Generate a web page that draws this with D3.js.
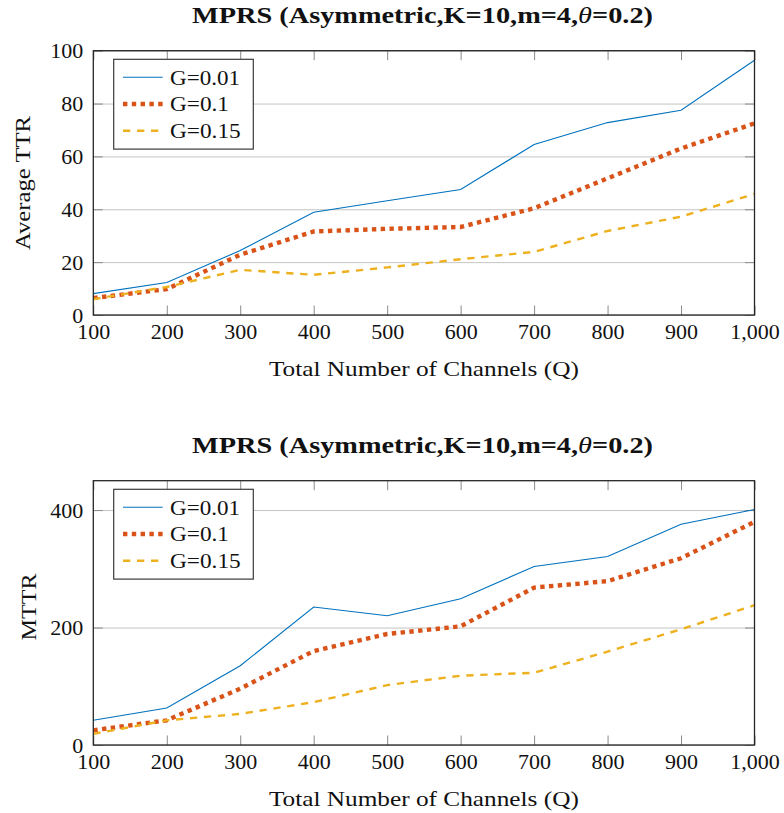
<!DOCTYPE html>
<html>
<head>
<meta charset="utf-8">
<script src="https://cdn.jsdelivr.net/npm/d3@7"></script>
<style>
  body { margin: 0; background: #ffffff; }
  svg { display: block; }
  text { font-family: "Liberation Serif", "DejaVu Serif", serif; fill: #111; }
</style>
</head>
<body>
<svg id="chart"></svg>
<script>
const channels = [100, 200, 300, 400, 500, 600, 700, 800, 900, 1000];
const seriesNames = ["G=0.01", "G=0.1", "G=0.15"];

// Average TTR (top chart)
const ttrG001 = [8.1, 12.3, 24.4, 38.9, 43.2, 47.5, 64.5, 72.8, 77.5, 96.4];
const ttrG01 = [6.4, 9.8, 22.8, 31.6, 32.6, 33.3, 40.4, 51.7, 63.0, 72.5];
const ttrG015 = [6.0, 10.6, 17.1, 15.2, 18.0, 21.1, 23.9, 31.8, 37.2, 45.8];
const ttrTicks = [0, 20, 40, 60, 80, 100];

// MTTR (bottom chart)
const mttrG001 = [42, 63, 135, 235, 220, 249, 304, 321, 376, 401];
const mttrG01 = [25, 42, 96, 160, 189, 202, 268, 279, 318, 380];
const mttrG015 = [19, 42, 53, 73, 102, 118, 123, 159, 197, 238];
const mttrTicks = [0, 200, 400];

const WIDTH = 784;
const HEIGHT = 813;
const LEFT = 93.3;
const RIGHT = 754.5;
const TICK = 9.5;
const FONT = 22;

const lineStyles = [
    { color: "#0072BD", width: 1.1, dash: null },
    { color: "#D95319", width: 4.4, dash: "4.4,4.4" },
    { color: "#EDB120", width: 2.4, dash: "7.3,6.7" },
];

const SVG = d3.select("#chart").attr("width", WIDTH).attr("height", HEIGHT);

function drawChart(opts) {
    const g = SVG.append("g");
    const xScale = d3.scaleLinear().domain([100, 1000]).range([LEFT, RIGHT]);
    const yScale = d3.scaleLinear().domain([0, opts.yMax]).range([opts.bottom, opts.top]);

    const clipId = "clip" + opts.id;
    g.append("clipPath").attr("id", clipId)
        .append("rect")
        .attr("x", LEFT).attr("y", opts.top)
        .attr("width", RIGHT - LEFT).attr("height", opts.bottom - opts.top);

    // y grid
    g.append("g")
        .attr("transform", "translate(" + LEFT + ",0)")
        .call(d3.axisLeft(yScale).tickValues(opts.yTicks).tickSize(-(RIGHT - LEFT)).tickFormat(""))
        .call((s) => s.select(".domain").remove())
        .selectAll(".tick line")
        .attr("stroke", "#c4c4c4")
        .attr("stroke-width", 1);

    // tick marks inside, on all four sides
    const tickColor = "#8a8a8a";
    g.append("g")
        .attr("transform", "translate(0," + opts.bottom + ")")
        .call(d3.axisTop(xScale).tickValues(channels).tickSize(TICK).tickFormat(""))
        .call((s) => s.select(".domain").remove())
        .selectAll(".tick line").attr("stroke", tickColor);
    g.append("g")
        .attr("transform", "translate(0," + opts.top + ")")
        .call(d3.axisBottom(xScale).tickValues(channels).tickSize(TICK).tickFormat(""))
        .call((s) => s.select(".domain").remove())
        .selectAll(".tick line").attr("stroke", tickColor);
    g.append("g")
        .attr("transform", "translate(" + LEFT + ",0)")
        .call(d3.axisRight(yScale).tickValues(opts.yTicks).tickSize(TICK).tickFormat(""))
        .call((s) => s.select(".domain").remove())
        .selectAll(".tick line").attr("stroke", tickColor);
    g.append("g")
        .attr("transform", "translate(" + RIGHT + ",0)")
        .call(d3.axisLeft(yScale).tickValues(opts.yTicks).tickSize(TICK).tickFormat(""))
        .call((s) => s.select(".domain").remove())
        .selectAll(".tick line").attr("stroke", tickColor);

    // tick labels
    const xLabels = g.append("g")
        .attr("transform", "translate(0," + opts.bottom + ")")
        .call(d3.axisBottom(xScale).tickValues(channels).tickSize(0).tickPadding(0).tickFormat(d3.format(",")));
    xLabels.select(".domain").remove();
    xLabels.selectAll(".tick text")
        .attr("y", 24).attr("dy", null)
        .attr("font-size", FONT + "px")
        .attr("font-family", "Liberation Serif")
        .attr("fill", "#111");

    const yLabels = g.append("g")
        .attr("transform", "translate(" + LEFT + ",0)")
        .call(d3.axisLeft(yScale).tickValues(opts.yTicks).tickSize(0).tickPadding(10));
    yLabels.select(".domain").remove();
    yLabels.selectAll(".tick text")
        .attr("dy", "0.33em")
        .attr("font-size", FONT + "px")
        .attr("font-family", "Liberation Serif")
        .attr("fill", "#111");

    // series
    const line = d3.line().x((d, i) => xScale(channels[i])).y((d) => yScale(d));
    const plot = g.append("g").attr("clip-path", "url(#" + clipId + ")");
    opts.series.forEach((values, i) => {
        plot.append("path")
            .datum(values)
            .attr("d", line)
            .attr("fill", "none")
            .attr("stroke", lineStyles[i].color)
            .attr("stroke-width", lineStyles[i].width)
            .attr("stroke-dasharray", lineStyles[i].dash);
    });

    // frame
    g.append("rect")
        .attr("x", LEFT).attr("y", opts.top)
        .attr("width", RIGHT - LEFT).attr("height", opts.bottom - opts.top)
        .attr("fill", "none")
        .attr("stroke", "#262626")
        .attr("stroke-width", 1.3);

    // legend
    const lg = g.append("g").attr("transform", "translate(113.7," + (opts.top + 8.6) + ")");
    lg.append("rect")
        .attr("width", 139.6).attr("height", 89.8)
        .attr("fill", "#ffffff")
        .attr("stroke", "#3a3a3a")
        .attr("stroke-width", 1.2);
    const legendWidths = [70, 59, 70.7];
    seriesNames.forEach((name, i) => {
        const y = 18 + i * 26.7;
        lg.append("line")
            .attr("x1", 9.3).attr("x2", 49)
            .attr("y1", y).attr("y2", y)
            .attr("stroke", lineStyles[i].color)
            .attr("stroke-width", lineStyles[i].width)
            .attr("stroke-dasharray", lineStyles[i].dash);
        lg.append("text")
            .attr("x", 56.3).attr("y", y + 7.5)
            .attr("font-size", FONT + "px")
            .attr("textLength", legendWidths[i])
            .attr("lengthAdjust", "spacingAndGlyphs")
            .text(name);
    });

    // title
    const title = g.append("text")
        .attr("x", 192).attr("y", opts.titleY)
        .attr("font-size", "24px")
        .attr("font-weight", "bold")
        .attr("textLength", 461)
        .attr("lengthAdjust", "spacingAndGlyphs");
    title.append("tspan").text("MPRS (Asymmetric,K=10,m=4,");
    title.append("tspan").attr("font-style", "italic").attr("font-weight", "normal").text("θ");
    title.append("tspan").text("=0.2)");

    // axis labels
    g.append("text")
        .attr("x", (LEFT + RIGHT) / 2).attr("y", opts.bottom + 61)
        .attr("text-anchor", "middle")
        .attr("font-size", FONT + "px")
        .attr("textLength", 310)
        .attr("lengthAdjust", "spacingAndGlyphs")
        .text("Total Number of Channels (Q)");

    g.append("text")
        .attr("transform", "translate(" + opts.yLabelX + "," + opts.yLabelMid + ") rotate(-90)")
        .attr("text-anchor", "middle")
        .attr("font-size", FONT + "px")
        .attr("textLength", opts.yLabelLen)
        .attr("lengthAdjust", "spacingAndGlyphs")
        .text(opts.yLabel);
}

drawChart({
    id: 1, top: 50.7, bottom: 315, yMax: 100, yTicks: ttrTicks,
    series: [ttrG001, ttrG01, ttrG015],
    titleY: 23.3, yLabel: "Average TTR", yLabelX: 30, yLabelMid: 183, yLabelLen: 134,
});

drawChart({
    id: 2, top: 480.7, bottom: 745, yMax: 450, yTicks: mttrTicks,
    series: [mttrG001, mttrG01, mttrG015],
    titleY: 453.3, yLabel: "MTTR", yLabelX: 35.5, yLabelMid: 607, yLabelLen: 67,
});
</script>
</body>
</html>
